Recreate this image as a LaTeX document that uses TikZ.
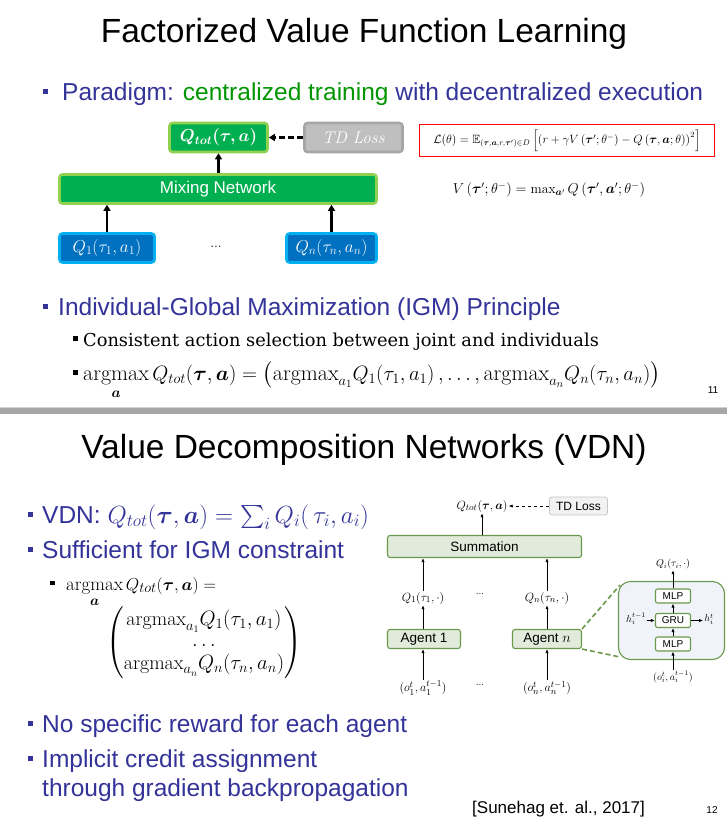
\documentclass[tikz,border=0pt]{standalone}
\usepackage{fontspec}
\usepackage{amsmath,amssymb,bm}
\usetikzlibrary{positioning,calc,arrows.meta}
\newfontfamily\arial{Liberation Sans}
\newfontfamily\cambria{DejaVu Serif}
\definecolor{slideblue}{RGB}{51,51,153}
\definecolor{slidegreen}{RGB}{0,150,0}
\definecolor{mixgreen}{RGB}{0,176,80}
\definecolor{mixedge}{RGB}{146,208,80}
\definecolor{qblue}{RGB}{0,112,192}
\definecolor{qedge}{RGB}{0,176,240}
\definecolor{tdgray}{RGB}{191,191,191}
\definecolor{tdedge}{RGB}{166,166,166}
\definecolor{vdnfill}{RGB}{226,235,219}
\definecolor{vdnedge}{RGB}{106,153,75}
\definecolor{cellback}{RGB}{240,244,250}
\colorlet{lgray}{gray!70}
\newcommand{\fsz}[1]{\fontsize{#1}{#1}\selectfont}

\begin{document}
\begin{tikzpicture}[x=1pt,y=-1pt,
    mixbox/.style={draw=mixedge,fill=mixgreen,line width=2.6pt,rounded corners=3pt,text=white,inner sep=0pt},
    qbox/.style={draw=qedge,fill=qblue,line width=2.6pt,rounded corners=3pt,text=white,inner sep=0pt},
    tdbox/.style={draw=tdedge,fill=tdgray,line width=2.6pt,rounded corners=3pt,text=white,inner sep=0pt},
    fatarrow/.style={-{Triangle[length=6pt,width=7pt]},line width=2.2pt},
    vdnbox/.style={draw=vdnedge,fill=vdnfill,line width=1.1pt,rounded corners=2.5pt,inner sep=0pt,font=\arial\fsz{13.5}},
    cellbox/.style={draw=vdnedge,fill=white,line width=1.1pt,rounded corners=2pt,inner sep=0pt,minimum width=35,minimum height=14,font=\arial\fsz{10}},
    thinarrow/.style={-{Latex[length=4pt,width=3.2pt]},line width=0.7pt},
    bigtext/.style={anchor=base west,inner sep=0pt,text=slideblue,font=\arial\fsz{24.5}},
    serifline/.style={anchor=base west,inner sep=0pt,font=\fsz{22}}]
\useasboundingbox[fill=white] (0,0) rectangle (727,817);

% slide 11
\node[anchor=base,inner sep=0pt,font=\arial\fsz{33.5}] (title1) at (364,42) {Factorized Value Function Learning};
\node[bigtext] (paradigm) at (62,100) {Paradigm: \textcolor{slidegreen}{centralized training} with decentralized execution};
\node[bigtext] (igm) at (58,315) {Individual-Global Maximization (IGM) Principle};
\node[serifline,font=\cambria\fsz{17.8}] (consistent) at (83,346) {Consistent action selection between joint and individuals};
\node[serifline] (argmaxline) at (83,380) {$\mathop{\mathrm{argmax}}\limits_{\bm a} Q_{tot}(\bm\tau,\bm a)=\bigl(\mathrm{argmax}_{a_1}Q_1(\tau_1,a_1)\,,\dots,\mathrm{argmax}_{a_n}Q_n(\tau_n,a_n)\bigr)$};
\node[anchor=base,inner sep=0pt,font=\arial\fsz{10}] (page11) at (713,393) {11};
\foreach \by in {100,315}{
    \fill[slideblue] (43,\by-11.5) rectangle +(5,5);
}
\foreach \by in {346,380}{
    \fill[black] (73,\by-10) rectangle +(4.5,4.5);
}

% mixing network
\node[mixbox,minimum width=98,minimum height=29,font=\fsz{17}] (qtot) at (218.5,137.5) {$\bm{Q_{tot}(\tau,a)}$};
\node[tdbox,minimum width=98,minimum height=29,font=\itshape\fsz{17}] (tdloss) at (353.5,137.5) {TD Loss};
\node[mixbox,minimum width=317,minimum height=29,font=\arial\fsz{17}] (mixing) at (218,189) {Mixing Network};
\node[qbox,minimum width=95,minimum height=29,font=\fsz{18}] (q1) at (107,248) {$Q_1(\tau_1,a_1)$};
\node[qbox,minimum width=90,minimum height=29,font=\fsz{18}] (qn) at (331.5,248) {$Q_n(\tau_n,a_n)$};
\node[font=\fsz{14}] (qdots) at (216,247) {...};
\draw[fatarrow] (q1.north) -- (q1.north |- mixing.south);
\draw[fatarrow] (qn.north) -- (qn.north |- mixing.south);
\draw[fatarrow] (mixing.north -| qtot) -- (qtot.south);
\draw[fatarrow,dashed,dash pattern=on 6pt off 3pt] (tdloss.west) -- (qtot.east);

% loss
\node[draw=red,line width=1.3pt,minimum width=295,minimum height=32,inner sep=0pt,font=\fsz{12}] (loss) at (567,140.5)
    {$\mathcal{L}(\theta)=\mathbb{E}_{(\bm\tau,\bm a,r,\bm\tau')\in D}\left[\left(r+\gamma V\left(\bm\tau';\theta^-\right)-Q\left(\bm\tau,\bm a;\theta\right)\right)^2\right]$};
\node[inner sep=0pt,font=\fsz{13.7}] (vtarget) at (549,190) {$V\left(\bm\tau';\theta^-\right)=\max_{\bm a'}Q\left(\bm\tau',\bm a';\theta^-\right)$};

% divider
\fill[lgray] (0,408) rectangle (727,414);
\fill[gray!35] (0,406.5) rectangle (727,408);

% slide 12
\node[anchor=base,inner sep=0pt,font=\arial\fsz{33.5}] (title2) at (364,458) {Value Decomposition Networks (VDN)};
\node[bigtext] (vdn) at (42,523) {VDN: \fsz{23}$Q_{tot}(\bm\tau,\bm a)=\sum_i Q_i(\,\tau_i,a_i)$};
\node[bigtext] (sufficient) at (42,558) {Sufficient for IGM constraint};
\node[serifline,font=\fsz{19}] (argmaxsub) at (66,590) {$\mathop{\mathrm{argmax}}\limits_{\bm a} Q_{tot}(\bm\tau,\bm a)=$};
\node[inner sep=0pt,font=\fsz{20}] (argmaxvec) at (204,643)
    {$\begin{pmatrix}\mathrm{argmax}_{a_1}Q_1(\tau_1,a_1)\\[1pt] \dots\\[1pt] \mathrm{argmax}_{a_n}Q_n(\tau_n,a_n)\end{pmatrix}$};
\node[bigtext] (noreward) at (42,732) {No specific reward for each agent};
\node[bigtext] (credit) at (42,767) {Implicit credit assignment};
\node[bigtext] (credit2) at (42,796) {through gradient backpropagation};
\node[anchor=base west,inner sep=0pt,font=\arial\fsz{17}] (cite) at (472,813) {[Sunehag et. al., 2017]};
\node[anchor=base,inner sep=0pt,font=\arial\fsz{10}] (page12) at (712,813) {12};
\foreach \by in {523,558,732,767}{
    \fill[slideblue] (28,\by-11.5) rectangle +(5,5);
}
\fill[black] (50,580.5) rectangle +(4.5,4.5);

% vdn network
\node[inner sep=1pt,font=\fsz{12.5}] (qtotv) at (482,506) {$Q_{tot}(\bm\tau,\bm a)$};
\node[draw=gray!45,fill=gray!10,line width=0.8pt,rounded corners=2.5pt,minimum width=58,minimum height=18,inner sep=0pt,font=\arial\fsz{12}] (tdv) at (578.5,506) {TD Loss};
\node[vdnbox,minimum width=194,minimum height=22] (summation) at (484.5,546.5) {Summation};
\node[inner sep=1pt,font=\fsz{12.5}] (q1v) at (423,598) {$Q_1(\tau_1,\cdot)$};
\node[inner sep=1pt,font=\fsz{12.5}] (qnv) at (547,598) {$Q_n(\tau_n,\cdot)$};
\node[font=\fsz{10}] (qvdots) at (480,594) {...};
\node[vdnbox,minimum width=73,minimum height=19] (agent1) at (424,639) {Agent 1};
\node[vdnbox,minimum width=69,minimum height=19] (agentn) at (547,639) {Agent \fsz{14}$n$};
\node[inner sep=1pt,font=\fsz{12.5}] (in1) at (423,688) {$(o_1^t,a_1^{t-1})$};
\node[inner sep=1pt,font=\fsz{12.5}] (inn) at (547,688) {$(o_n^t,a_n^{t-1})$};
\node[font=\fsz{10}] (invdots) at (480,685) {...};
\draw[thinarrow,dashed] (tdv.west) -- (qtotv.east);
\draw[thinarrow] (summation.north -| qtotv) -- (qtotv.south);
\draw[thinarrow] (q1v.north) -- (q1v.north |- summation.south);
\draw[thinarrow] (qnv.north) -- (qnv.north |- summation.south);
\draw[thinarrow] (agent1.north -| q1v) -- (q1v.south);
\draw[thinarrow] (agentn.north -| qnv) -- (qnv.south);
\draw[thinarrow] (in1.north) -- (in1.north |- agent1.south);
\draw[thinarrow] (inn.north) -- (inn.north |- agentn.south);

% agent internals
\node[draw=vdnedge,fill=cellback,line width=1.1pt,rounded corners=12pt,minimum width=106,minimum height=78] (cell) at (671.5,620.5) {};
\node[cellbox] (mlptop) at (673,596) {MLP};
\node[cellbox] (gru) at (673,620.5) {GRU};
\node[cellbox] (mlpbot) at (673,644) {MLP};
\node[inner sep=1pt,font=\fsz{10}] (qi) at (673,564) {$Q_i(\tau_i,\cdot)$};
\node[inner sep=1pt,font=\fsz{10}] (hprev) at (636,619) {$h_i^{t-1}$};
\node[inner sep=1pt,font=\fsz{10}] (hnext) at (709,619) {$h_i^t$};
\node[inner sep=1pt,font=\fsz{10}] (oi) at (673,677) {$(o_i^t,a_i^{t-1})$};
\draw[thinarrow] (mlptop.north) -- (qi.south);
\draw[thinarrow] (gru.north) -- (mlptop.south);
\draw[thinarrow] (mlpbot.north) -- (gru.south);
\draw[thinarrow] (oi.north) -- (mlpbot.south);
\draw[thinarrow] (hprev.east |- gru.west) -- (gru.west);
\draw[thinarrow] (gru.east) -- (hnext.west |- gru.east);
\coordinate (zoomtop) at (620,585);
\coordinate (zoombot) at (620,657);
\draw[vdnedge,line width=1.6pt,dash pattern=on 5pt off 3pt] (agentn.north east) -- (zoomtop);
\draw[vdnedge,line width=1.6pt,dash pattern=on 5pt off 3pt] (agentn.south east) -- (zoombot);
\end{tikzpicture}
\end{document}
